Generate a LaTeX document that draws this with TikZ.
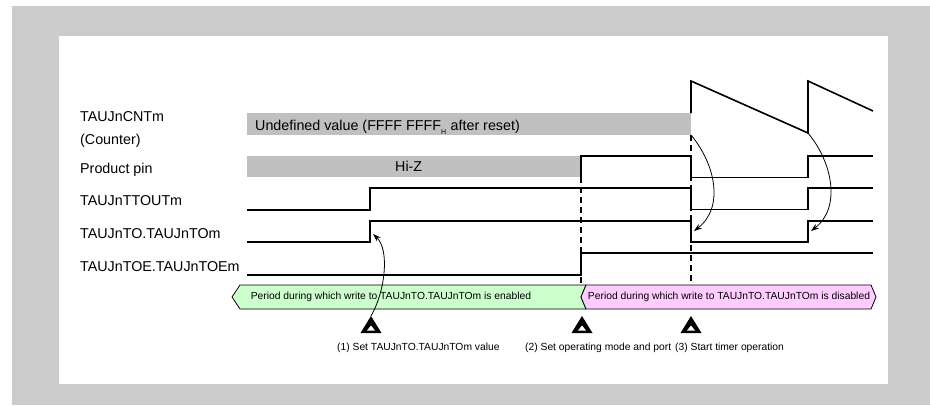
\documentclass[tikz,border=0pt]{standalone}
\usepackage{fontspec}
\setmainfont{Liberation Sans}
\usetikzlibrary{arrows.meta}
\definecolor{framegray}{HTML}{CCCCCC}
\definecolor{barfill}{HTML}{C0C0C0}
\definecolor{okgreen}{HTML}{CCFFCC}
\definecolor{nopink}{HTML}{FFCCFF}
\begin{document}
\begin{tikzpicture}[x=1pt,y=-1pt,
  sig/.style={line width=1.6pt, line join=miter},
  guide/.style={line width=1.2pt, dash pattern=on 6pt off 4pt},
  lbl/.style={font=\fontsize{14.3}{17}\selectfont, inner sep=0pt, anchor=base west},
  small/.style={font=\fontsize{10.3}{12}\selectfont, inner sep=0pt},
  causal/.style={line width=0.8pt, -{Stealth[length=8pt,width=5.5pt]}},
  stripbox/.style={draw, line width=0.8pt, line join=miter}]
\useasboundingbox (0,0) rectangle (930,405);
\fill[framegray] (12,6) rectangle (930,405);
\fill[white] (59,36) rectangle (888,384);

% signal names
\node[lbl] (ncnt) at (80,121.7) {TAUJnCNTm};
\node[lbl] (ncntb) at (80,144) {(Counter)};
\node[lbl] (npin) at (80,173.3) {Product pin};
\node[lbl] (ntt) at (80,205.5) {TAUJnTTOUTm};
\node[lbl] (nto) at (80,238.3) {TAUJnTO.TAUJnTOm};
\node[lbl] (ntoe) at (80,271.3) {TAUJnTOE.TAUJnTOEm};

% gray bars
\fill[barfill] (247,113) rectangle (691,135);
\node[lbl] (undef) at (255,130) {Undefined value (FFFF FFFF\textsubscript{\fontsize{7}{7}\selectfont\raisebox{-2.5pt}{H}} after reset)};
\fill[barfill] (247,156) rectangle (581,177.3);
\node[lbl] (hiz) at (395,171.7) {Hi-Z};

% waveforms
\draw[sig] (691,113) -- (691,81) -- (808,133) -- (808,81) -- (873,111);
\draw[sig] (581,177.3) -- (581,156) -- (691,156) -- (691,177.3) -- (808,177.3) -- (808,156) -- (873,156);
\draw[sig] (247,210) -- (370,210) -- (370,188) -- (691,188) -- (691,209.5) -- (808,209.5) -- (808,188) -- (873,188);
\draw[sig] (247,242) -- (370,242) -- (370,221) -- (691,221) -- (691,242) -- (808,242) -- (808,221) -- (873,221);
\draw[sig] (247,275) -- (581,275) -- (581,253) -- (873,253);

% guides
\draw[guide] (581,177) -- (581,285);
\draw[guide] (691,135) -- (691,285);

% period strip
\draw[stripbox, fill=okgreen] (232,297) -- (240,285) -- (586,285) -- (581,297) -- (586,309) -- (240,309) -- cycle;
\draw[stripbox, fill=nopink] (581,297) -- (586,285) -- (871,285) -- (876,297) -- (871,309) -- (586,309) -- cycle;
\node[small] (pen) at (391,297) {Period during which write to TAUJnTO.TAUJnTOm is enabled};
\node[small] (pdis) at (729,297) {Period during which write to TAUJnTO.TAUJnTOm is disabled};

% trigger markers
\foreach \tx/\nm in {371/t1,582/t2,691/t3}{
  \coordinate (\nm) at (\tx,316);
  \fill (\tx,316) -- ++(10.5,17) -- ++(-21,0) -- cycle;
  \fill[white] (\tx,325.5) -- ++(4,5) -- ++(-8,0) -- cycle;
}
\node[small, anchor=base west] (s1) at (337,350) {(1) Set TAUJnTO.TAUJnTOm value};
\node[small, anchor=base west] (s2) at (525,350) {(2) Set operating mode and port};
\node[small, anchor=base west] (s3) at (675,350) {(3) Start timer operation};

% causal arrows
\coordinate (a1s) at (691,135); \coordinate (a1e) at (694,231);
\coordinate (a2s) at (808,133); \coordinate (a2e) at (811,231);
\coordinate (a3e) at (373,234);
\draw[causal] (a1s) .. controls (716,165) and (724,208) .. (a1e);
\draw[causal] (a2s) .. controls (833,163) and (841,208) .. (a2e);
\draw[causal] (t1) .. controls (385,292) and (390,250) .. (a3e);
\end{tikzpicture}
\end{document}
